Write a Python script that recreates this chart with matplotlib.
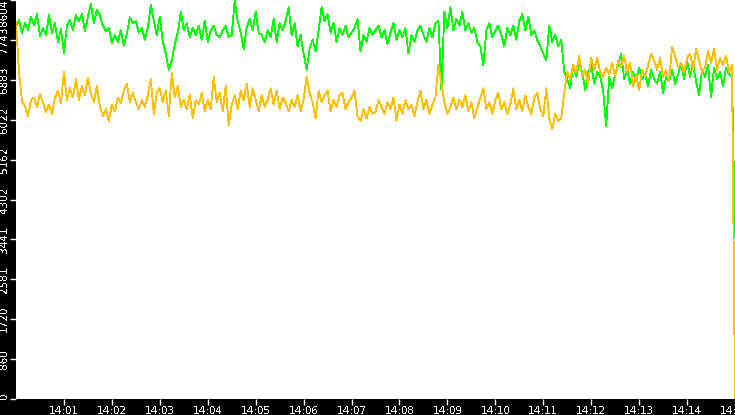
import numpy as np
import pandas as pd
import matplotlib
matplotlib.use("Agg")
import matplotlib.pyplot as plt

# values, one every ~3.75 s from 14:00:00 to 14:15:00
green = [
    8030, 8170, 7900, 8100, 7960, 8250, 8060, 8300, 7830, 8000,
    7850, 8280, 7900, 8100, 7700, 7980, 7460, 8050, 8170, 7950,
    8280, 8150, 8300, 7940, 8230, 8520, 8100, 8400, 8270, 8050,
    7930, 8000, 7680, 7850, 7700, 7950, 7620, 7880, 8230, 8100,
    8150, 7900, 8000, 7750, 8000, 8500, 8150, 7850, 8250, 7700,
    7450, 7100, 7300, 7650, 7900, 8350, 7950, 8100, 7800, 8000,
    7850, 8050, 7750, 8150, 7700, 7950, 8050, 7850, 7800, 7950,
    8050, 7800, 7850, 8600, 8150, 7900, 7550, 8000, 8200, 7950,
    8350, 7900, 7850, 7700, 7950, 7800, 8200, 7700, 8100, 7950,
    8150, 8450, 7850, 8100, 7600, 7850, 7450, 7100, 7550, 7750,
    7500, 7950, 8450, 8150, 8300, 7900, 8100, 7700, 8000, 7850,
    8050, 7800, 7900, 8000, 8200, 7500, 7850, 7700, 8000, 7850,
    7950, 8050, 7800, 7950, 7650, 7900, 8100, 7750, 7950, 7800,
    8000, 7450, 7850, 7700, 7950, 8050, 7850, 7700, 8000, 7800,
    8100, 8150, 6680, 8350, 8000, 8450, 7950, 8200, 8050, 8350,
    7950, 8100, 7900, 8000, 7700, 7600, 7200, 7950, 8100, 7800,
    7950, 8050, 7850, 7600, 8000, 7850, 8050, 7750, 8150, 8300,
    7950, 8250, 7850, 7950, 7750, 7600, 7450, 7300, 8050, 7700,
    7850, 7600, 7750, 7050, 6900, 6700, 7200, 6950, 7250, 7050,
    6650, 7050, 7200, 6800, 7050, 6950, 6650, 5880, 6950, 6700,
    7000, 7200, 7450, 6900, 7100, 6800, 7050, 6850, 7150, 6900,
    7000, 6750, 7100, 6900, 6800, 7050, 6600, 6950, 6850, 7100,
    6800, 7000, 7250, 6900, 7300, 6950, 7200, 6850, 6550, 7100,
    6950, 7200, 6500, 7150, 6900, 7050, 6750, 7150, 7000, 6950,
    3500,
]

orange = [
    8130, 7050, 6420, 6310, 6100, 6450, 6500, 6300, 6580, 6400,
    6180, 6350, 6150, 6500, 6650, 6380, 7060, 6450, 6700, 6500,
    6900, 6450, 6750, 6550, 6920, 6600, 6400, 6750, 6300, 6100,
    6250, 6000, 6350, 6200, 6500, 6380, 6650, 6800, 6400, 6600,
    6400, 6250, 6450, 6300, 6550, 6900, 6150, 6600, 6700, 6400,
    6650, 6100, 7030, 6500, 6750, 6300, 6450, 6250, 6550, 6050,
    6450, 6350, 6600, 6200, 6450, 6250, 6950, 6400, 6600, 6200,
    6750, 5900, 6350, 6550, 6250, 6650, 6450, 6800, 6300, 6700,
    6450, 6200, 6550, 6300, 6450, 6700, 6350, 6650, 6250, 6500,
    6400, 6200, 6450, 6300, 6550, 6200, 6450, 6950, 6600, 6400,
    6050, 6650, 6400, 6550, 6650, 6200, 6450, 6300, 6550, 6600,
    6250, 6400, 6500, 6650, 6100, 6000, 6250, 6050, 6300, 6150,
    6200, 6450, 6300, 6150, 6400, 6250, 6500, 6000, 6350, 6150,
    6450, 6250, 6350, 6100, 6400, 6650, 6250, 6450, 6150, 6350,
    6500, 7200, 6800, 6400, 6150, 6300, 6500, 6250, 6450, 6300,
    6550, 6200, 6400, 6050, 6300, 6500, 6700, 6250, 6400, 6150,
    6450, 6600, 6250, 6400, 6150, 6350, 6700, 6250, 6450, 6200,
    6550, 6300, 6150, 6500, 6600, 6250, 6100, 6700, 6050, 5820,
    6150, 6000, 6050, 6600, 7050, 6900, 7200, 7050, 7400, 6950,
    7100, 6800, 7350, 7100, 7350, 7050, 6950, 7150, 7000, 7250,
    6950, 7300, 7150, 7400, 7050, 7250, 6750, 7000, 6650, 7100,
    6950, 7200, 7450, 7300, 7100, 7350, 6950, 7100, 6850, 7600,
    7400, 7150, 7250, 7050, 7350, 7450, 7100, 7550, 7300, 7050,
    7150, 7500, 7250, 7550, 7100, 7350, 7200, 7400, 7050, 7200,
    0,
]

y_max = 8604
y_labels = ["0", "860", "1720", "2581", "3441", "4302",
            "5162", "6022", "6883", "7743", "8604"]
x_labels = ["14:01", "14:02", "14:03", "14:04", "14:05", "14:06", "14:07",
            "14:08", "14:09", "14:10", "14:11", "14:12", "14:13", "14:14",
            "14:15"]


def main():
    plt.rcParams["text.antialiased"] = False
    plt.rcParams["font.family"] = ["DejaVu Sans"]

    times = pd.date_range("2024-01-01 14:00:00", "2024-01-01 14:15:00",
                          periods=len(green))
    x_ticks = pd.date_range("2024-01-01 14:01:00", "2024-01-01 14:15:00",
                            freq="1min")

    fig = plt.figure(figsize=(7.35, 4.15), dpi=100, facecolor="black")
    ax = fig.add_axes([16 / 735, 16 / 415, 719 / 735, 399 / 415])
    ax.set_facecolor("white")

    ax.plot(times, green, color="#00ff00", lw=0.6, antialiased=False)
    ax.plot(times, orange, color="#ffc000", lw=0.6, antialiased=False)

    ax.set_xlim(times[0], times[-1])
    ax.set_ylim(0, y_max)

    ax.set_xticks(x_ticks)
    ax.set_xticklabels(x_labels)
    ax.set_yticks(np.linspace(0, y_max, len(y_labels)))
    labels = ax.set_yticklabels(y_labels, rotation=90, va="center")
    labels[0].set_va("bottom")
    labels[-1].set_va("top")

    for spine in ax.spines.values():
        spine.set_visible(False)
    ax.tick_params(colors="white", length=4, width=1, labelsize=7.5,
                   pad=1)

    fig.savefig("out.png", dpi=100, facecolor="black")


if __name__ == "__main__":
    main()
